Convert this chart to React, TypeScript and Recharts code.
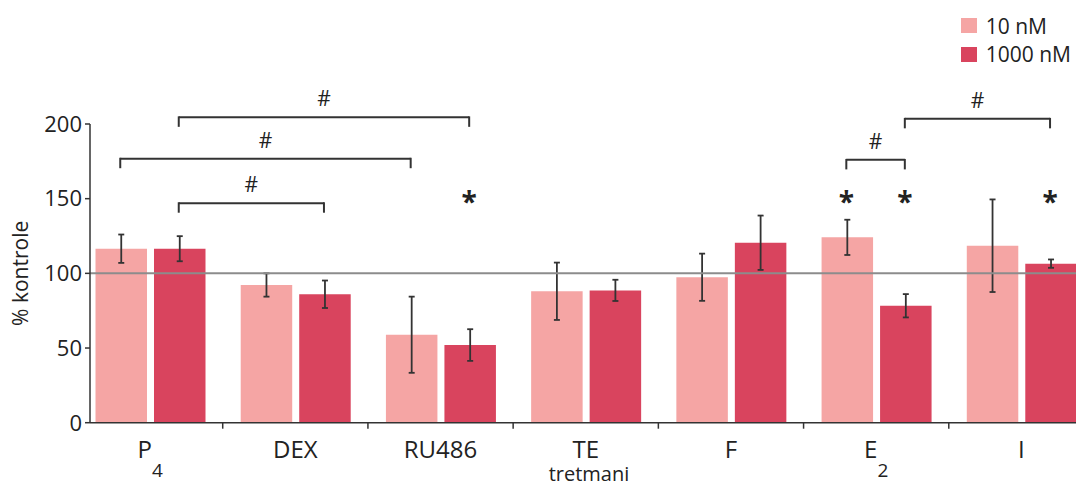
import React from 'react'
import { BarChart, Bar, XAxis, YAxis, ErrorBar, ReferenceLine, ReferenceDot, Legend } from 'recharts'

// treatments on the x axis; tick text is split into base + subscript
const CATEGORIES = ['P4', 'DEX', 'RU486', 'TE', 'F', 'E2', 'I']
const TICK_BASE = ['P', 'DEX', 'RU486', 'TE', 'F', 'E', 'I']
const TICK_SUB = ['4', '', '', '', '', '2', '']

// % of control, mean and error for both concentrations
const LOW_DOSE = [116.5, 92.2, 58.9, 88.0, 97.4, 124.1, 118.5]
const LOW_ERR = [9.5, 7.8, 25.5, 19.2, 15.8, 11.8, 31.0]
const HIGH_DOSE = [116.5, 86.0, 52.0, 88.6, 120.5, 78.3, 106.5]
const HIGH_ERR = [8.4, 9.2, 10.6, 7.1, 18.2, 7.8, 2.8]

const Y_TICKS = [0, 50, 100, 150, 200]

// '#' comparisons: [category, series] -> [category, series] at a given height
const BRACKETS: { from: [string, number]; to: [string, number]; level: number }[] = [
  { from: ['P4', 1], to: ['DEX', 1], level: 147 },
  { from: ['P4', 0], to: ['RU486', 0], level: 176.8 },
  { from: ['P4', 1], to: ['RU486', 1], level: 204.5 },
  { from: ['E2', 0], to: ['E2', 1], level: 176 },
  { from: ['E2', 1], to: ['I', 1], level: 203.5 },
]
// '*' marks vs. control
const STARS: [string, number][] = [['RU486', 1], ['E2', 0], ['E2', 1], ['I', 1]]
const STAR_LEVEL = 151.3

const LIGHT = '#f5a5a4'
const DARK = '#d9445e'
const INK = '#222222'
const AXIS = '#333333'
const FONT = '"Open Sans", sans-serif'

const SERIES = [
  { key: 'low', err: 'lowErr', name: '10 nM', color: LIGHT },
  { key: 'high', err: 'highErr', name: '1000 nM', color: DARK },
]

// layout
const CHART_W = 1094
const CHART_H = 486
const Y_AXIS_W = 90
const PAD_LEFT = -12.5
const BAR = 51.5
const GAP = 7
const LEG = 6.4

const BAND = (CHART_W - Y_AXIS_W - PAD_LEFT) / CATEGORIES.length
const GROUP_OFFSET = Math.floor((BAND - (2 * BAR + GAP)) / 2)

// bar centre in "category index" units of the hidden numeric axis
const barCenter = (cat: string, series: number) =>
  CATEGORIES.indexOf(cat) + (GROUP_OFFSET + BAR / 2 + series * (BAR + GAP)) / BAND

const data = CATEGORIES.map((name, i) => ({
  name,
  slot: i + 0.5,
  low: LOW_DOSE[i],
  lowErr: LOW_ERR[i],
  high: HIGH_DOSE[i],
  highErr: HIGH_ERR[i],
}))

const CategoryTick = (props: any) => {
  const { x, y, payload } = props
  const i = CATEGORIES.indexOf(payload.value)
  return (
    <g>
      {i < CATEGORIES.length - 1 && (
        <line x1={x + BAND / 2} x2={x + BAND / 2} y1={y} y2={y + 6} stroke={AXIS} strokeWidth={1.5} />
      )}
      <text x={x} y={y + 35.6} textAnchor="middle" fontSize={24} fill={INK} fontFamily={FONT}>
        {TICK_BASE[i]}
        {TICK_SUB[i] && (
          <tspan dx={0} dy={18.5} fontSize={19}>
            {TICK_SUB[i]}
          </tspan>
        )}
      </text>
    </g>
  )
}

const renderLegend = () => (
  <div style={{ fontFamily: FONT, fontSize: 21, color: INK, whiteSpace: 'nowrap', width: 120 }}>
    {SERIES.map((s) => (
      <div key={s.key} style={{ display: 'flex', alignItems: 'center', height: 28.4 }}>
        <span style={{ display: 'inline-block', flexShrink: 0, width: 16.6, height: 15, background: s.color }} />
        <span style={{ marginLeft: 8.4, lineHeight: '28px' }}>{s.name}</span>
      </div>
    ))}
  </div>
)

const Star = (props: any) => (
  <text x={props.cx} y={props.cy + 15} textAnchor="middle" fontSize={28} fontWeight="bold" fill={INK} fontFamily={FONT}>
    *
  </text>
)

export default function App() {
  return (
    <div style={{ position: 'absolute', left: 0, top: 0, width: 1076, height: 486, overflow: 'hidden', background: '#fff' }}>
      <BarChart
        width={CHART_W}
        height={CHART_H}
        data={data}
        margin={{ top: 124, right: 0, left: 0, bottom: 0 }}
        barSize={BAR}
        barGap={GAP}
        style={{ fontFamily: FONT }}
      >
        <XAxis
          xAxisId="cat"
          dataKey="name"
          height={63.3}
          padding={{ left: PAD_LEFT, right: 0 }}
          interval={0}
          tickSize={0}
          tickMargin={0}
          tickLine={false}
          tick={<CategoryTick />}
          axisLine={{ stroke: AXIS, strokeWidth: 1.5 }}
          label={{ value: 'tretmani', position: 'insideBottom', offset: 5, fontSize: 20, fill: INK, dx: -3 }}
        />
        <XAxis
          xAxisId="num"
          dataKey="slot"
          type="number"
          domain={[0, CATEGORIES.length]}
          padding={{ left: PAD_LEFT, right: 0 }}
          allowDataOverflow
          hide
        />
        <YAxis
          width={Y_AXIS_W}
          domain={[0, 200]}
          ticks={Y_TICKS}
          tickSize={5}
          tickMargin={3}
          tick={{ fontSize: 22, fill: INK }}
          tickLine={{ stroke: AXIS, strokeWidth: 1.5 }}
          axisLine={{ stroke: AXIS, strokeWidth: 1.5 }}
          label={{ value: '% kontrole', angle: -90, position: 'insideLeft', offset: 21, fontSize: 21, fill: INK, style: { textAnchor: 'middle' } }}
        />
        <Legend
          content={renderLegend}
          verticalAlign="top"
          align="right"
          wrapperStyle={{ top: 11.6, left: 960.7, width: 0, height: 0, overflow: 'visible' }}
        />
        {SERIES.map((s) => (
          <Bar key={s.key} xAxisId="cat" dataKey={s.key} name={s.name} fill={s.color} isAnimationActive={false}>
            <ErrorBar dataKey={s.err} width={3} stroke={AXIS} strokeWidth={1.8} isAnimationActive={false} />
          </Bar>
        ))}

        {/* control level */}
        <ReferenceLine
          xAxisId="num"
          segment={[
            { x: (0 - PAD_LEFT) / BAND, y: 100 },
            { x: CATEGORIES.length, y: 100 },
          ]}
          stroke="#8c8c8c"
          strokeWidth={2}
        />

        {BRACKETS.map((b, k) => {
          const x1 = barCenter(b.from[0], b.from[1])
          const x2 = barCenter(b.to[0], b.to[1])
          return (
            <React.Fragment key={`br-${k}`}>
              <ReferenceLine
                xAxisId="num"
                segment={[
                  { x: x1, y: b.level },
                  { x: x2, y: b.level },
                ]}
                stroke={AXIS}
                strokeWidth={2}
                ifOverflow="visible"
                label={{ value: '#', position: 'top', offset: 11, fontSize: 21, fill: INK }}
              />
              <ReferenceLine
                xAxisId="num"
                segment={[
                  { x: x1, y: b.level + 0.6 },
                  { x: x1, y: b.level - LEG },
                ]}
                stroke={AXIS}
                strokeWidth={2}
                ifOverflow="visible"
              />
              <ReferenceLine
                xAxisId="num"
                segment={[
                  { x: x2, y: b.level + 0.6 },
                  { x: x2, y: b.level - LEG },
                ]}
                stroke={AXIS}
                strokeWidth={2}
                ifOverflow="visible"
              />
            </React.Fragment>
          )
        })}

        {STARS.map(([cat, s], k) => (
          <ReferenceDot key={`st-${k}`} xAxisId="num" x={barCenter(cat, s)} y={STAR_LEVEL} r={0} shape={<Star />} ifOverflow="visible" />
        ))}
      </BarChart>
    </div>
  )
}
